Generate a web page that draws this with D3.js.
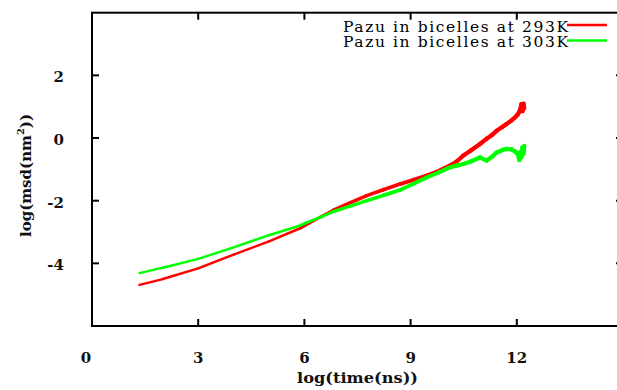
<!DOCTYPE html>
<html>
<head>
<meta charset="utf-8">
<script src="https://cdn.jsdelivr.net/npm/d3@7"></script>
<style>
  html, body { margin: 0; padding: 0; background: #fff; }
  svg { display: block; }
</style>
</head>
<body>
<svg id="chart" width="617" height="390"></svg>
<script>
// log(time) sample positions and log(msd) for each temperature
const logTime = [1.34, 2, 3, 4, 5, 5.88, 6.44, 6.82, 7.3, 7.76, 8.23, 8.7, 9.1, 9.45, 9.8,
  10.11, 10.3, 10.49, 10.7, 10.96, 11.15, 11.3, 11.43, 11.6, 11.71, 11.85, 11.95, 12.03, 12.07,
  12.1, 12.13, 12.16, 12.19, 12.21];
const msd293 = [-4.69, -4.5, -4.16, -3.72, -3.3, -2.88, -2.53, -2.3, -2.06, -1.84, -1.65, -1.47, -1.33, -1.2, -1.05,
  -0.88, -0.75, -0.56, -0.4, -0.19, -0.02, 0.1, 0.23, 0.36, 0.45, 0.56, 0.66, 0.76, 0.84,
  0.92, 1.08, 0.86, 1.1, 0.95];
const msd303 = [-4.31, -4.14, -3.86, -3.49, -3.1, -2.79, -2.53, -2.35, -2.17, -2.0, -1.83, -1.66, -1.45, -1.26, -1.1,
  -0.94, -0.88, -0.83, -0.75, -0.62, -0.72, -0.6, -0.46, -0.38, -0.35, -0.36, -0.43, -0.52, -0.7,
  -0.45, -0.62, -0.3, -0.5, -0.25];

const seriesNames = ["Pazu in bicelles at 293K", "Pazu in bicelles at 303K"];
const seriesColors = ["#ff0000", "#00ff00"];
const xTicks = [0, 3, 6, 9, 12];
const yTicks = [-4, -2, 0, 2];

const svg = d3.select("#chart");
const frameLeft = 92, frameRight = 623, frameTop = 12.7, frameBottom = 326;

const x = d3.scaleLinear().domain([0, 15]).range([frameLeft, frameRight]);
const y = d3.scaleLinear().domain([-6, 4]).range([frameBottom, frameTop]);

const serif = "'DejaVu Serif', 'Liberation Serif', serif";

// data curves; late, noisy samples read as a heavier trace
const series = [msd293, msd303].map((vals, i) => ({
  name: seriesNames[i], color: seriesColors[i],
  pts: logTime.map((t, j) => [t, vals[j]])
}));
const strokeW = d3.scaleLinear().domain([1.3, 5.5, 8.5, 11]).range([2.3, 2.6, 3.8, 4.3]).clamp(true);

const plot = svg.append("g").attr("fill", "none").attr("stroke-linecap", "round");
series.forEach(s => {
  const segs = d3.pairs(s.pts);
  plot.append("g").attr("stroke", s.color)
    .selectAll("line").data(segs).join("line")
    .attr("x1", d => x(d[0][0])).attr("y1", d => y(d[0][1]))
    .attr("x2", d => x(d[1][0])).attr("y2", d => y(d[1][1]))
    .attr("stroke-width", d => strokeW((d[0][0] + d[1][0]) / 2));
});

// frame with inward ticks on all four sides
const axes = svg.append("g").attr("stroke", "#000").attr("stroke-width", 2);
axes.append("rect").attr("x", frameLeft).attr("y", frameTop)
  .attr("width", frameRight - frameLeft).attr("height", frameBottom - frameTop).attr("fill", "none");
const tickLen = 7;
xTicks.filter(t => t > 0).forEach(t => {
  axes.append("line").attr("x1", x(t)).attr("x2", x(t)).attr("y1", frameBottom).attr("y2", frameBottom - tickLen);
  axes.append("line").attr("x1", x(t)).attr("x2", x(t)).attr("y1", frameTop).attr("y2", frameTop + tickLen);
});
yTicks.forEach(t => {
  axes.append("line").attr("x1", frameLeft).attr("x2", frameLeft + tickLen).attr("y1", y(t)).attr("y2", y(t));
  axes.append("line").attr("x1", frameRight).attr("x2", frameRight - tickLen).attr("y1", y(t)).attr("y2", y(t));
});

// tick labels
const labels = svg.append("g").attr("font-family", serif).attr("font-weight", "bold")
  .attr("font-size", 15).attr("fill", "#111");
xTicks.forEach(t => {
  labels.append("text").attr("x", t === 0 ? x(t) - 6 : x(t)).attr("y", 362.5)
    .attr("text-anchor", "middle").text(t);
});
yTicks.forEach(t => {
  labels.append("text").attr("x", 64).attr("y", y(t) + 7)
    .attr("text-anchor", "end").text(t);
});

// axis titles
labels.append("text").attr("x", 357.5).attr("y", 383).attr("text-anchor", "middle")
  .attr("textLength", 121).attr("lengthAdjust", "spacingAndGlyphs")
  .text("log(time(ns))");
const yt = labels.append("text").attr("transform", "translate(31,175.5) rotate(-90)")
  .attr("text-anchor", "middle");
yt.append("tspan").text("log(msd(nm");
yt.append("tspan").attr("font-size", 10).attr("dy", -7).text("2");
yt.append("tspan").attr("dy", 7).text("))");

// legend
const legend = svg.append("g").attr("font-family", serif).attr("font-size", 15.5).attr("fill", "#000");
series.forEach((s, i) => {
  const ly = 25 + i * 15.5;
  legend.append("text").attr("x", 568).attr("y", ly + 6.5).attr("text-anchor", "end")
    .attr("textLength", 225).attr("lengthAdjust", "spacing").text(s.name);
  legend.append("line").attr("x1", 567).attr("x2", 607).attr("y1", ly).attr("y2", ly)
    .attr("stroke", s.color).attr("stroke-width", 2.5);
});
</script>
</body>
</html>
